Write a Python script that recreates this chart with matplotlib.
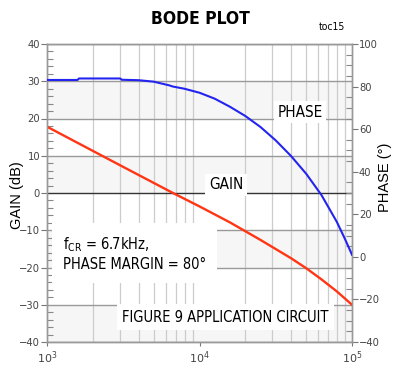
import numpy as np
import matplotlib
matplotlib.use("Agg")
import matplotlib.pyplot as plt
from matplotlib.ticker import MultipleLocator, FixedLocator, NullFormatter

plt.rcParams['font.family'] = ['Liberation Sans', 'DejaVu Sans']
# narrow look of the original chart
NARROW = dict(family='DejaVu Sans', fontstretch='condensed')

# gain curve (red)
gain_freq = [1000, 3162, 6700, 10000, 15850, 25120, 39810, 50120, 63100, 79430, 100000]
gain_db = [17.8, 7.0, 0.0, -3.6, -7.9, -12.6, -17.5, -20.2, -23.2, -26.4, -30.0]

# phase curve (blue)
phase_freq = [1000, 1585, 1620, 3020, 3090, 3981, 5012, 6310, 6700, 7943,
              10000, 12590, 15850, 19950, 25120, 31620, 39810, 50120,
              63100, 79430, 89130, 100000]
phase_deg = [83.1, 83.1, 83.8, 83.8, 83.2, 83.0, 82.3, 80.6, 80.0, 79.0,
             77.1, 74.3, 70.5, 66.2, 61.0, 54.7, 47.4, 39.0,
             29.0, 16.5, 9.0, 1.0]

gain_ticks = [-40, -30, -20, -10, 0, 10, 20, 30, 40]
phase_ticks = [-40, -20, 0, 20, 40, 60, 80, 100]
x_ticks = [1e3, 1e4, 1e5]
x_labels = ['$10^3$', '$10^4$', '$10^5$']

fig = plt.figure(figsize=(4.01, 3.75), dpi=100)
ax = fig.add_axes([47/401, 1 - 342/375, 305/401, 298/375])
ax2 = ax.twinx()

ax.set_xscale('log')
ax.set_xlim(1e3, 1e5)
ax.set_ylim(-40, 40)
ax2.set_ylim(-40, 100)

# alternating light bands
for lo in range(-40, 40, 20):
    ax.axhspan(lo, lo + 10, color='#f6f6f6', zorder=0, lw=0)

# vertical grid at log minor positions
minor_x = [m * 10**e for e in (3, 4) for m in range(2, 10)]
for xv in minor_x:
    ax.axvline(xv, color='#cccccc', lw=0.9, zorder=1)
for yv in gain_ticks:
    if yv == 0:
        ax.axhline(yv, color='#333333', lw=1.0, zorder=1)
    else:
        ax.axhline(yv, color='#9a9a9a', lw=1.0, zorder=1)

ax.plot(gain_freq, gain_db, color='#ff3514', lw=1.7, zorder=3)
ax2.plot(phase_freq, phase_deg, color='#2424f0', lw=1.5, zorder=3)

# ticks
ax.set_yticks(gain_ticks)
ax.yaxis.set_minor_locator(MultipleLocator(2))
ax2.set_yticks(phase_ticks)
ax2.yaxis.set_minor_locator(MultipleLocator(5))
ax.set_xticks(x_ticks)
ax.set_xticklabels(x_labels)
ax.xaxis.set_minor_locator(FixedLocator([]))
ax.xaxis.set_minor_formatter(NullFormatter())

for a in (ax, ax2):
    a.tick_params(axis='y', which='major', direction='out', length=4,
                  width=0.8, color='#777777', labelsize=8, labelcolor='#444444', pad=1)
    a.tick_params(axis='y', which='minor', direction='in', length=4,
                  width=0.8, color='#888888')
    for lab in a.get_yticklabels():
        lab.set_family('DejaVu Sans')
        lab.set_fontstretch('condensed')
    for s in a.spines.values():
        s.set_color('#999999')
        s.set_linewidth(1.0)
ax.tick_params(axis='x', which='major', direction='out', length=3,
               color='#777777', labelsize=8, labelcolor='#444444', pad=2)

ax.set_ylabel('GAIN (dB)', fontsize=10.5)
ax.yaxis.label.set_va('center')
ax.yaxis.set_label_coords(-0.097, 0.493)
ax2.set_ylabel('PHASE (°)', fontsize=10.5, rotation=90)
ax2.yaxis.label.set_va('center')
ax2.yaxis.set_label_coords(1.108, 0.554)

fig.text(0.5, 1 - 19/375, 'BODE PLOT', ha='center', va='center',
         fontsize=12.5, fontweight='bold', **NARROW)
fig.text(332/401, 1 - 27/375, 'toc15', ha='center', va='center', fontsize=7.5, **NARROW)

ax2.text(4.56e4, 68, 'PHASE', ha='center', va='center', fontsize=11,
         bbox=dict(facecolor='white', edgecolor='none', pad=2.5), zorder=4, **NARROW)
ax.text(1.49e4, 2.15, 'GAIN', ha='center', va='center', fontsize=11,
        bbox=dict(facecolor='white', edgecolor='none', pad=2.5), zorder=4, **NARROW)
ax.text(1.27e3, -16.3, 'f$_{\\mathregular{CR}}$ = 6.7kHz,\nPHASE MARGIN = 80°',
        ha='left', va='center', fontsize=10.5, linespacing=1.2,
        bbox=dict(facecolor='white', edgecolor='none', pad=8), zorder=4, **NARROW)
ax.text(1.48e4, -33.3, 'FIGURE 9 APPLICATION CIRCUIT', ha='center', va='center',
        fontsize=10.5, bbox=dict(facecolor='white', edgecolor='none', pad=4),
        zorder=4, **NARROW)

fig.savefig('out.png', dpi=100)
